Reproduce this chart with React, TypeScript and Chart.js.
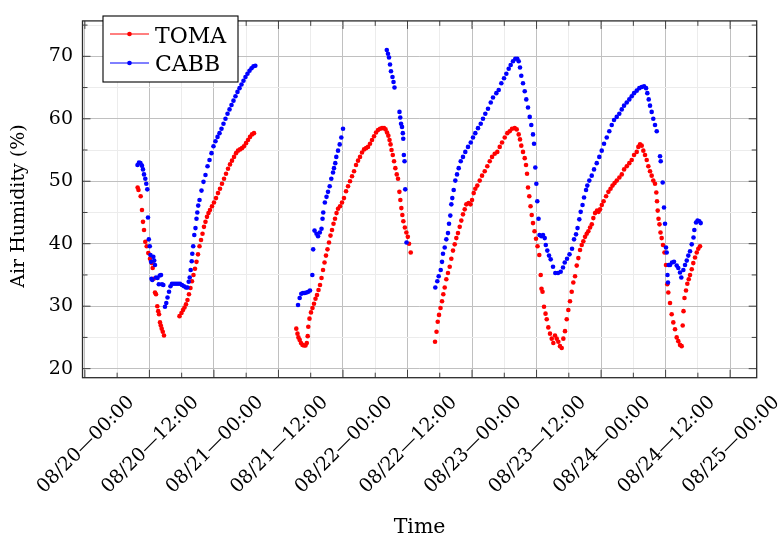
import React, { useEffect, useRef } from 'react';
import { Chart, registerables } from 'chart.js';

Chart.register(...registerables);

// Time in hours after 08/20 00:00, value = air humidity (%)
const tomaSeg1: [number, number][] = [
  [-2.19, 49.0], [-2.03, 48.6], [-1.62, 47.6], [-1.38, 45.4], [-1.19, 43.5], [-1.0, 42.2],
  [-0.76, 40.3], [-0.5, 39.6], [-0.2, 38.5], [0.11, 37.6], [0.43, 36.9], [0.61, 36.1],
  [0.8, 34.4], [1.04, 32.2], [1.23, 31.9], [1.47, 30.0], [1.64, 29.2], [1.79, 28.7],
  [1.97, 27.4], [2.12, 26.9], [2.29, 26.4], [2.49, 25.9], [2.72, 25.3],
];
const tomaSeg2: [number, number][] = [
  [5.6, 28.4], [5.97, 28.9], [6.25, 29.4], [6.53, 29.8], [6.81, 30.3], [7.08, 31.0],
  [7.36, 31.9], [7.64, 32.9], [7.92, 34.0], [8.2, 35.0], [8.48, 36.0], [8.76, 37.1],
  [9.04, 38.3], [9.32, 39.6], [9.6, 40.6], [9.88, 41.6], [10.15, 42.7], [10.43, 43.5],
  [10.71, 44.3], [10.99, 44.9], [11.27, 45.4], [11.64, 46.0], [12.01, 46.6], [12.39, 47.3],
  [12.76, 48.1], [13.13, 48.8], [13.5, 49.6], [13.88, 50.4], [14.25, 51.2], [14.62, 52.0],
  [14.99, 52.7], [15.36, 53.3], [15.74, 53.9], [16.11, 54.5], [16.48, 54.9], [16.85, 55.1],
  [17.22, 55.3], [17.59, 55.6], [17.97, 56.1], [18.34, 56.6], [18.71, 57.1], [19.08, 57.5],
  [19.45, 57.7],
];
const tomaSeg3: [number, number][] = [
  [27.32, 26.4], [27.54, 25.6], [27.72, 25.0], [27.95, 24.6], [28.19, 24.1], [28.47, 23.8],
  [28.75, 23.7], [29.03, 23.7], [29.27, 24.1], [29.44, 25.2], [29.55, 26.7], [29.77, 28.0],
  [30.05, 29.0], [30.33, 29.7], [30.61, 30.4], [30.89, 31.2], [31.17, 31.8], [31.45, 32.6],
  [31.73, 33.4], [32.01, 34.5], [32.29, 35.8], [32.57, 37.0], [32.84, 38.1], [33.12, 39.1],
  [33.4, 40.2], [33.68, 41.3], [33.96, 42.2], [34.24, 43.2], [34.52, 44.0], [34.8, 44.9],
  [35.08, 45.6], [35.45, 46.0], [35.82, 46.6], [36.19, 47.3], [36.57, 48.4], [36.94, 49.2],
  [37.31, 50.0], [37.68, 50.8], [38.06, 51.6], [38.43, 52.6], [38.8, 53.3], [39.17, 53.9],
  [39.54, 54.6], [39.92, 55.1], [40.29, 55.3], [40.66, 55.5], [41.03, 56.0], [41.4, 56.6],
  [41.78, 57.2], [42.15, 57.8], [42.52, 58.2], [42.89, 58.4], [43.27, 58.5], [43.64, 58.5],
  [43.92, 58.3], [44.19, 57.8], [44.44, 57.3], [44.66, 56.6], [44.85, 55.9], [45.03, 55.0],
  [45.26, 54.2], [45.5, 53.2], [45.74, 52.1], [46.0, 51.1], [46.24, 50.4], [46.49, 48.3],
  [46.67, 47.0], [46.86, 45.7], [47.04, 44.6], [47.23, 43.6], [47.51, 42.6], [47.79, 41.8],
  [48.06, 41.1], [48.29, 40.0], [48.6, 38.6],
];
const tomaSeg4: [number, number][] = [
  [53.12, 24.3], [53.4, 25.9], [53.62, 27.5], [53.86, 28.6], [54.14, 29.7], [54.42, 30.8],
  [54.66, 31.9], [54.92, 33.0], [55.22, 34.3], [55.53, 35.3], [55.85, 36.3], [56.15, 37.6],
  [56.46, 38.9], [56.78, 39.9], [57.08, 40.9], [57.39, 41.7], [57.71, 42.7], [58.01, 43.7],
  [58.32, 44.7], [58.64, 45.5], [58.94, 46.3], [59.35, 46.5], [59.72, 46.3], [60.0, 47.0],
  [60.31, 48.1], [60.61, 48.8], [60.98, 49.3], [61.43, 50.1], [61.86, 50.9], [62.36, 51.6],
  [62.84, 52.4], [63.29, 53.2], [63.72, 53.9], [64.22, 54.4], [64.7, 54.7], [65.15, 55.5],
  [65.58, 56.2], [66.08, 57.0], [66.56, 57.7], [67.01, 58.0], [67.44, 58.4], [67.94, 58.5],
  [68.31, 58.3], [68.68, 57.5], [68.92, 56.7], [69.16, 55.7], [69.48, 54.7], [69.8, 53.7],
  [70.04, 52.6], [70.23, 51.2], [70.41, 49.0], [70.65, 47.6], [70.88, 46.0], [71.1, 44.6],
  [71.34, 43.3], [71.62, 42.0], [71.9, 40.8], [72.18, 39.6], [72.51, 38.2], [72.77, 35.0],
  [72.92, 32.8], [73.11, 32.3], [73.39, 29.9], [73.67, 28.8], [73.89, 27.9], [74.19, 26.6],
  [74.5, 25.6], [74.82, 24.8], [75.12, 24.1], [75.43, 25.3], [75.75, 24.8], [76.05, 24.3],
  [76.36, 23.6], [76.68, 23.3], [76.98, 24.8], [77.29, 26.0], [77.61, 27.9], [77.91, 29.4],
  [78.22, 30.8], [78.54, 32.3], [78.84, 33.8], [79.16, 34.8], [79.47, 36.5], [79.77, 37.7],
  [80.09, 39.0], [80.4, 39.8], [80.7, 40.4], [81.02, 41.1], [81.33, 41.6], [81.63, 42.0],
  [81.95, 42.6], [82.27, 43.1], [82.56, 44.1], [82.88, 44.9], [83.25, 45.3], [83.53, 45.1],
  [83.81, 45.5], [84.13, 46.2], [84.47, 46.8], [84.93, 47.6], [85.36, 48.3], [85.76, 48.8],
  [86.13, 49.3], [86.51, 49.7], [86.92, 50.1], [87.4, 50.6], [87.85, 51.1], [88.28, 51.9],
  [88.78, 52.4], [89.25, 52.9], [89.7, 53.4], [90.13, 54.2], [90.63, 54.7], [90.93, 55.5],
  [91.24, 55.9], [91.56, 55.7], [91.86, 54.9], [92.17, 54.2], [92.49, 53.4], [92.79, 52.4],
  [93.1, 51.6], [93.41, 50.9], [93.71, 50.1], [94.03, 49.6], [94.27, 48.2], [94.4, 46.8],
  [94.53, 45.3], [94.68, 44.0], [94.86, 43.1], [95.05, 41.8], [95.27, 40.9], [95.51, 39.8],
  [95.79, 38.6], [96.07, 36.6], [96.31, 33.5], [96.5, 32.2], [96.82, 30.5], [97.13, 28.7],
  [97.43, 27.4], [97.75, 26.3], [98.06, 25.0], [98.36, 24.4], [98.68, 23.8], [98.99, 23.6],
  [99.18, 26.9], [99.33, 29.2], [99.51, 31.3], [99.79, 32.5], [100.04, 33.6], [100.3, 34.3],
  [100.54, 35.0], [100.86, 35.9], [101.15, 36.9], [101.47, 37.8], [101.79, 38.6], [102.08, 39.2],
  [102.4, 39.6],
];

const cabbSeg1: [number, number][] = [
  [-2.21, 52.6], [-1.93, 53.0], [-1.66, 52.9], [-1.38, 52.5], [-1.19, 51.9], [-1.0, 51.1],
  [-0.76, 50.4], [-0.58, 49.6], [-0.39, 48.7], [-0.26, 44.2], [-0.11, 40.7], [0.07, 39.6],
  [0.2, 38.2], [0.3, 37.1], [0.39, 34.4], [0.54, 34.2], [0.73, 37.9], [0.89, 37.3],
  [1.04, 36.6], [1.23, 34.6], [1.51, 34.5], [1.75, 33.5], [1.93, 34.9], [2.16, 35.0],
  [2.34, 33.5], [2.59, 33.4], [2.9, 29.9], [3.14, 30.5], [3.37, 31.4], [3.65, 32.3],
  [3.92, 33.2], [4.2, 33.6], [4.58, 33.6], [4.95, 33.6], [5.32, 33.6], [5.69, 33.6],
  [6.06, 33.4], [6.43, 33.2], [6.81, 33.0], [7.09, 33.0], [7.31, 33.9], [7.5, 34.6],
  [7.68, 35.8], [7.87, 37.2], [7.98, 38.4], [8.15, 39.6], [8.35, 41.4], [8.57, 42.5],
  [8.76, 44.0], [8.91, 45.0], [9.08, 46.1], [9.32, 47.0], [9.69, 48.5], [10.06, 49.9],
  [10.43, 51.0], [10.81, 52.4], [11.18, 53.4], [11.55, 54.5], [11.92, 55.6], [12.29, 56.4],
  [12.67, 57.1], [13.04, 57.7], [13.41, 58.4], [13.78, 59.2], [14.15, 60.0], [14.53, 60.8],
  [14.9, 61.5], [15.27, 62.2], [15.64, 62.9], [16.01, 63.6], [16.38, 64.3], [16.76, 64.9],
  [17.13, 65.5], [17.5, 66.1], [17.87, 66.7], [18.24, 67.2], [18.62, 67.7], [18.99, 68.1],
  [19.36, 68.4], [19.7, 68.5],
];
const cabbSeg2: [number, number][] = [
  [27.64, 30.2], [27.95, 31.3], [28.25, 32.0], [28.57, 32.1], [28.88, 32.1], [29.22, 32.2],
  [29.55, 32.3], [29.87, 32.5], [30.3, 35.0], [30.46, 39.1], [30.71, 42.1], [31.08, 41.6],
  [31.36, 41.2], [31.69, 41.8], [32.01, 42.4], [32.2, 44.0], [32.33, 45.0], [32.63, 46.6],
  [32.94, 47.5], [33.22, 48.3], [33.53, 49.2], [33.83, 50.4], [34.15, 51.4], [34.33, 52.1],
  [34.57, 52.9], [34.76, 53.9], [35.08, 54.9], [35.39, 55.9], [35.69, 57.0], [36.01, 58.4],
];
const cabbSeg3: [number, number][] = [
  [44.15, 71.0], [44.37, 70.4], [44.56, 69.8], [44.75, 68.7], [44.93, 67.6], [45.21, 66.7],
  [45.4, 65.9], [45.58, 65.0], [46.51, 61.1], [46.65, 60.2], [46.8, 59.2], [46.98, 58.7],
  [47.13, 57.7], [47.21, 56.8], [47.32, 54.2], [47.45, 53.2], [47.58, 48.7], [47.82, 40.2],
];
const cabbSeg4: [number, number][] = [
  [53.17, 33.0], [53.54, 34.0], [53.8, 34.8], [54.18, 35.8], [54.42, 37.1], [54.6, 38.4],
  [54.92, 39.4], [55.22, 40.7], [55.53, 41.7], [55.72, 43.2], [55.96, 44.5], [56.15, 46.3],
  [56.33, 47.3], [56.59, 48.6], [56.89, 50.1], [57.21, 51.1], [57.52, 52.1], [57.9, 53.2],
  [58.32, 53.9], [58.75, 54.7], [59.25, 55.5], [59.76, 56.2], [60.18, 57.0], [60.61, 57.7],
  [61.11, 58.5], [61.62, 59.2], [62.04, 60.0], [62.47, 60.8], [62.97, 61.6], [63.48, 62.6],
  [63.9, 63.4], [64.52, 64.1], [64.96, 64.6], [65.45, 65.7], [65.95, 66.5], [66.38, 67.2],
  [66.82, 68.0], [67.19, 68.6], [67.62, 69.2], [68.05, 69.6], [68.42, 69.6], [68.68, 69.2],
  [68.92, 68.2], [69.16, 66.9], [69.48, 65.7], [69.8, 64.4], [70.09, 63.1], [70.41, 61.8],
  [70.73, 60.3], [71.02, 59.0], [71.34, 57.5], [71.53, 56.0], [71.77, 52.2], [71.96, 49.6],
  [72.14, 46.8], [72.37, 44.0], [72.55, 41.4], [72.89, 41.2], [73.2, 41.4], [73.52, 40.9],
  [73.72, 39.8], [74.0, 38.9], [74.32, 38.1], [74.63, 37.5], [75.06, 36.3], [75.49, 35.3],
  [75.99, 35.3], [76.49, 35.5], [76.92, 36.2], [77.24, 37.0], [77.67, 37.6], [78.13, 38.3],
  [78.6, 39.2], [78.97, 40.7], [79.34, 41.5], [79.62, 42.5], [79.95, 43.9], [80.21, 45.1],
  [80.55, 46.2], [80.83, 47.4], [81.2, 48.6], [81.44, 49.3], [81.81, 50.1], [82.26, 50.9],
  [82.69, 51.9], [83.19, 52.9], [83.67, 53.9], [84.12, 54.9], [84.55, 56.0], [85.05, 57.0],
  [85.53, 58.0], [85.98, 59.0], [86.41, 59.8], [86.91, 60.3], [87.39, 60.8], [87.84, 61.5],
  [88.27, 62.1], [88.77, 62.6], [89.25, 63.1], [89.7, 63.6], [90.13, 64.1], [90.63, 64.5],
  [91.11, 64.9], [91.56, 65.1], [91.99, 65.2], [92.36, 64.9], [92.6, 64.1], [92.86, 63.1],
  [93.1, 62.1], [93.41, 61.1], [93.71, 60.0], [94.03, 59.0], [94.35, 58.0], [94.96, 54.0],
  [95.09, 53.2], [95.46, 49.8], [95.7, 45.8], [95.89, 43.2], [96.07, 39.4], [96.2, 38.6],
  [96.35, 35.0], [96.44, 33.8], [96.57, 36.6], [96.82, 36.6], [97.19, 37.0], [97.56, 37.1],
  [98.06, 36.5], [98.36, 36.1], [98.68, 35.4], [98.92, 34.6], [99.3, 35.8], [99.61, 36.6],
  [99.93, 37.3], [100.22, 38.1], [100.54, 38.8], [100.86, 39.9], [101.19, 41.0], [101.34, 42.2],
  [101.66, 43.4], [101.94, 43.7], [102.27, 43.6], [102.53, 43.3],
];

const seriesNames = ['TOMA', 'CABB'];
const seriesColors = ['#ff0000', '#0000ff'];

const xTickHours = [0, 12, 24, 36, 48, 60, 72, 84, 96, 108, 120];
const xTickLabels = [
  '08/20—00:00', '08/20—12:00', '08/21—00:00', '08/21—12:00', '08/22—00:00', '08/22—12:00',
  '08/23—00:00', '08/23—12:00', '08/24—00:00', '08/24—12:00', '08/25—00:00',
];

const X_MIN = -12.44;
const X_MAX = 112.94;
const Y_MIN = 18.55;
const Y_MAX = 75.67;

const SERIF = '"DejaVu Serif", serif';

const toPoints = (segs: [number, number][][]) =>
  segs.flat().map(([x, y]) => ({ x, y }));

const decorPlugin = {
  id: 'decor',
  afterDraw(chart: any) {
    const { ctx, chartArea: a, scales } = chart;
    const x = scales.x;
    const y = scales.y;
    ctx.save();
    // inner tick marks on all four sides
    ctx.strokeStyle = '#404040';
    ctx.lineWidth = 1;
    ctx.beginPath();
    x.ticks.forEach((t: any) => {
      const px = x.getPixelForValue(t.value);
      const len = Math.abs(t.value % 12) < 1e-6 ? 8 : 5;
      ctx.moveTo(px, a.bottom);
      ctx.lineTo(px, a.bottom - len);
      ctx.moveTo(px, a.top);
      ctx.lineTo(px, a.top + len);
    });
    y.ticks.forEach((t: any) => {
      const py = y.getPixelForValue(t.value);
      const len = Math.abs(t.value % 10) < 1e-6 ? 8 : 5;
      ctx.moveTo(a.left, py);
      ctx.lineTo(a.left + len, py);
      ctx.moveTo(a.right, py);
      ctx.lineTo(a.right - len, py);
    });
    ctx.stroke();
    // axis box
    ctx.strokeStyle = '#2b2b2b';
    ctx.lineWidth = 1.3;
    ctx.strokeRect(a.left, a.top, a.right - a.left, a.bottom - a.top);

    // rotated x tick labels
    ctx.fillStyle = '#000';
    ctx.font = `19px ${SERIF}`;
    ctx.textAlign = 'right';
    ctx.textBaseline = 'alphabetic';
    xTickHours.forEach((h, i) => {
      const px = x.getPixelForValue(h) - 24.3;
      ctx.save();
      ctx.translate(px, a.bottom + 15.4);
      ctx.rotate(-Math.PI / 4);
      ctx.fillText(xTickLabels[i], 0, 13.8);
      ctx.restore();
    });

    // axis titles
    ctx.font = `20.5px ${SERIF}`;
    ctx.textAlign = 'center';
    ctx.fillText('Time', (a.left + a.right) / 2, 533);
    ctx.save();
    ctx.font = `19px ${SERIF}`;
    ctx.translate(24, 206);
    ctx.rotate(-Math.PI / 2);
    ctx.fillText('Air Humidity (%)', 0, 0);
    ctx.restore();

    // legend
    ctx.fillStyle = '#fff';
    ctx.fillRect(103, 16, 135, 66);
    ctx.strokeStyle = '#000';
    ctx.lineWidth = 1.1;
    ctx.strokeRect(103, 16, 135, 66);
    const rows = [34, 63];
    const bases = [42.5, 71];
    seriesNames.forEach((name, i) => {
      ctx.strokeStyle = seriesColors[i];
      ctx.lineWidth = 1;
      ctx.beginPath();
      ctx.moveTo(110, rows[i]);
      ctx.lineTo(149, rows[i]);
      ctx.stroke();
      ctx.fillStyle = seriesColors[i];
      ctx.beginPath();
      ctx.arc(129.5, rows[i], 2.3, 0, Math.PI * 2);
      ctx.fill();
      ctx.fillStyle = '#000';
      ctx.font = `22px ${SERIF}`;
      ctx.textAlign = 'left';
      ctx.fillText(name, 155, bases[i]);
    });
    ctx.restore();
  },
};

export default function App() {
  const ref = useRef<HTMLCanvasElement>(null);
  useEffect(() => {
    document.body.style.margin = '0';
    const canvas = ref.current;
    if (!canvas) return;
    const chart = new Chart(canvas, {
      type: 'scatter',
      data: {
        datasets: [
          {
            label: seriesNames[0],
            data: toPoints([tomaSeg1, tomaSeg2, tomaSeg3, tomaSeg4]),
            backgroundColor: seriesColors[0],
            borderColor: seriesColors[0],
            pointRadius: 2.3,
            pointBorderWidth: 0,
            showLine: false,
            order: 1,
          },
          {
            label: seriesNames[1],
            data: toPoints([cabbSeg1, cabbSeg2, cabbSeg3, cabbSeg4]),
            backgroundColor: seriesColors[1],
            borderColor: seriesColors[1],
            pointRadius: 2.3,
            pointBorderWidth: 0,
            showLine: false,
            order: 0,
          },
        ],
      },
      options: {
        responsive: false,
        animation: false,
        layout: { padding: { left: 0, top: 4.7, right: 23.3, bottom: 0 } },
        plugins: { legend: { display: false }, tooltip: { enabled: false } },
        scales: {
          x: {
            type: 'linear',
            min: X_MIN,
            max: X_MAX,
            afterFit: (s: any) => { s.height = 163.3; },
            ticks: { display: false, stepSize: 6, includeBounds: false, autoSkip: false },
            grid: {
              drawTicks: false,
              color: (c: any) => (Math.abs(c.tick.value % 12) < 1e-6 ? 'rgb(192,192,192)' : 'rgb(236,236,236)'),
              lineWidth: 1,
            },
            border: { display: false },
          },
          y: {
            type: 'linear',
            min: Y_MIN,
            max: Y_MAX,
            afterFit: (s: any) => { s.width = 82.5; },
            ticks: {
              stepSize: 5,
              includeBounds: false,
              autoSkip: false,
              padding: 9.5,
              color: '#000',
              font: { family: '"DejaVu Serif", serif', size: 19 },
              callback: (v: any) => (Math.abs(v % 10) < 1e-6 ? String(v) : ''),
            },
            grid: {
              drawTicks: false,
              color: (c: any) => (Math.abs(c.tick.value % 10) < 1e-6 ? 'rgb(192,192,192)' : 'rgb(236,236,236)'),
              lineWidth: 1,
            },
            border: { display: false },
          },
        },
      },
      plugins: [decorPlugin],
    } as any);
    return () => chart.destroy();
  }, []);
  return (
    <div style={{ width: 780, height: 541 }}>
      <canvas ref={ref} width={780} height={541} style={{ display: 'block' }} />
    </div>
  );
}
